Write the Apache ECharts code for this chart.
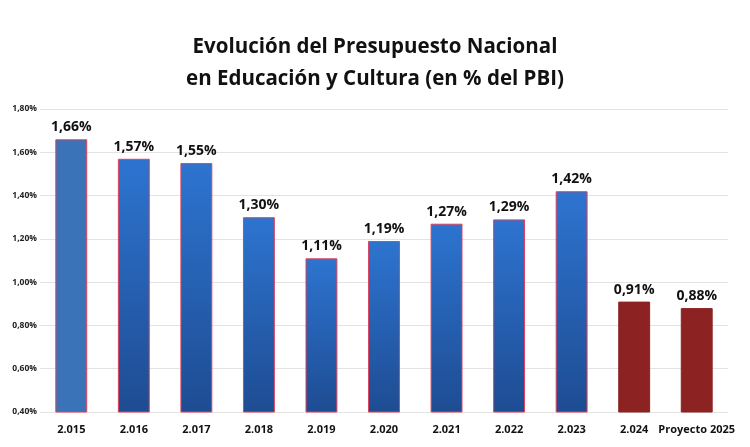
<!DOCTYPE html>
<html>
<head>
<meta charset="utf-8">
<script src="https://cdn.jsdelivr.net/npm/echarts@6/dist/echarts.min.js"></script>
<style>
  html, body { margin: 0; padding: 0; background: #fff; }
  #main { width: 750px; height: 447px; }
</style>
</head>
<body>
<div id="main"></div>
<script>
// datos
var anios = ['2.015', '2.016', '2.017', '2.018', '2.019', '2.020', '2.021', '2.022', '2.023', '2.024', 'Proyecto 2025'];
var porcentajes = [1.66, 1.57, 1.55, 1.30, 1.11, 1.19, 1.27, 1.29, 1.42, 0.91, 0.88];
var ticksY = [0.4, 0.6, 0.8, 1.0, 1.2, 1.4, 1.6, 1.8];

var fuente = '"Open Sans", "Noto Sans", sans-serif';

function pct(v) {
  return v.toFixed(2).replace('.', ',') + '%';
}

var azul = new echarts.graphic.LinearGradient(0, 0, 0, 1, [
  { offset: 0, color: '#2d74d0' },
  { offset: 1, color: '#1e4c92' }
]);
var azulClaro = '#3b73b9';
var rojo = '#8c2222';

var datos = porcentajes.map(function (v, i) {
  var color = i === 0 ? azulClaro : (i >= 9 ? rojo : azul);
  return {
    value: v,
    itemStyle: {
      color: color,
      borderColor: i >= 9 ? rojo : '#e0405a',
      borderWidth: 1
    }
  };
});

var myChart = echarts.init(document.getElementById('main'));
var option = {
  backgroundColor: '#fff',
  title: {
    text: 'Evolución del Presupuesto Nacional\nen Educación y Cultura (en % del PBI)',
    left: 'center',
    top: 26,
    textStyle: {
      fontFamily: fuente,
      fontWeight: 'bold',
      fontSize: 20.5,
      lineHeight: 32,
      color: '#111'
    }
  },
  grid: { left: 40, right: 22, top: 109, bottom: 35 },
  xAxis: {
    type: 'category',
    data: anios,
    axisLine: { show: false },
    axisTick: { show: false },
    axisLabel: {
      fontFamily: fuente,
      fontWeight: 'bold',
      fontSize: 11,
      color: '#111',
      margin: 12,
      interval: 0
    }
  },
  yAxis: {
    type: 'value',
    min: ticksY[0],
    max: ticksY[ticksY.length - 1],
    interval: 0.2,
    axisLabel: {
      fontFamily: fuente,
      fontWeight: 'bold',
      fontSize: 8.5,
      color: '#222',
      margin: 3,
      formatter: function (v) { return pct(v); }
    },
    splitLine: { lineStyle: { color: '#e3e3e3', width: 1 } }
  },
  series: [{
    type: 'bar',
    data: datos,
    barWidth: '51%',
    label: {
      show: true,
      position: 'top',
      distance: 5,
      fontFamily: fuente,
      fontWeight: 'bold',
      fontSize: 14,
      color: '#111',
      formatter: function (p) { return pct(p.value); }
    }
  }]
};
myChart.setOption(option);
</script>
</body>
</html>
